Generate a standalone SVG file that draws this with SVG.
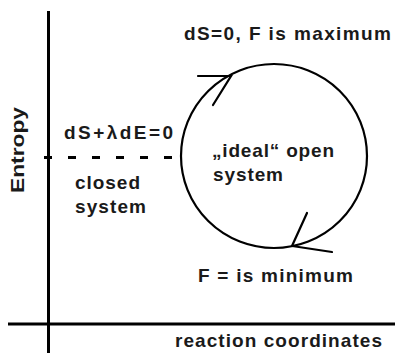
<svg xmlns="http://www.w3.org/2000/svg" width="395" height="353" viewBox="0 0 395 353">
<style>
.t{font-family:"Liberation Sans",Arial,sans-serif;font-size:19px;font-weight:bold;fill:#1a1a1a;}
.ax{stroke:#000;stroke-width:3;fill:none;}
.ln{stroke:#000;stroke-width:2.2;fill:none;stroke-linecap:round;}
</style>
<rect width="395" height="353" fill="#fff"/>
<g id="axes">
<line class="ax" x1="48.5" y1="11" x2="48.5" y2="353"/>
<line class="ax" x1="8" y1="324" x2="395" y2="324"/>
</g>
<g id="axis-labels">
<text class="t" transform="translate(24,193) rotate(-90)" textLength="86" lengthAdjust="spacingAndGlyphs">Entropy</text>
<text class="t" x="175" y="347" textLength="207" lengthAdjust="spacing">reaction coordinates</text>
</g>
<g id="closed-system">
<text class="t" x="64" y="139" textLength="109" lengthAdjust="spacing">dS+λdE=0</text>
<text class="t" x="75" y="189" textLength="65" lengthAdjust="spacing">closed</text>
<text class="t" x="75" y="213" textLength="71" lengthAdjust="spacing">system</text>
</g>
<g id="open-system">
<ellipse class="ln" cx="274" cy="156" rx="93" ry="92"/>
<text class="t" x="212" y="157" textLength="122" lengthAdjust="spacing">„ideal“ open</text>
<text class="t" x="213" y="181" textLength="70" lengthAdjust="spacing">system</text>
</g>
<g id="labels">
<text class="t" x="184" y="40" textLength="207" lengthAdjust="spacing">dS=0, F is maximum</text>
<text class="t" x="198" y="282" textLength="155" lengthAdjust="spacing">F = is minimum</text>
</g>
<g id="connectors">
<line class="ax" x1="44" y1="157.5" x2="172" y2="157.5" stroke-dasharray="8 16"/>
<path class="ln" stroke-width="2.8" d="M198,76 L231,76 L213,105"/>
<path class="ln" stroke-width="2.8" d="M307,213 L292,246 L332,252"/>
</g>
</svg>
